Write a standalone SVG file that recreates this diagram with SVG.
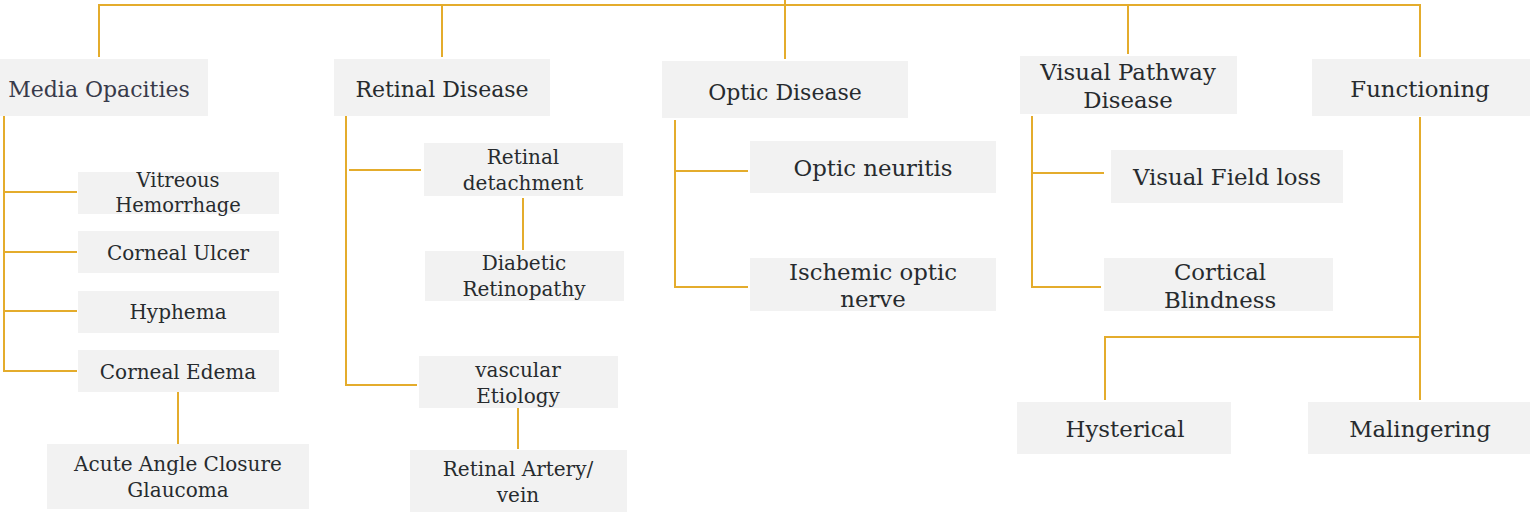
<svg xmlns="http://www.w3.org/2000/svg" width="1530" height="512" viewBox="0 0 1530 512">
<style>
.b{fill:#f2f2f2}
text{font-family:"DejaVu Serif","Liberation Serif",serif;fill:#272b2e;text-anchor:middle}
.l{font-size:22.8px}
.k{font-size:22px}
.m{font-size:20px}
.s{font-size:19.5px}
.c path{fill:none;stroke:#e4ac2c;stroke-width:2}
</style>
<rect width="1530" height="512" fill="#fff"/>
<g class="c" id="connectors">
<path d="M99 57V5H1420V57M442 5V57M785 0V59M1128 5V54"/>
<path d="M4 116V371H77M4 192H77M4 252H77M4 311H77M178 392V444"/>
<path d="M346 116V385H417M349 170H421M523 198V250M518 408V449"/>
<path d="M675 120V287H748M675 171H748"/>
<path d="M1032 116V287H1101M1032 173H1104"/>
<path d="M1420 117V400M1420 337H1105V400"/>
</g>
<g id="n-media"><rect class="b" x="0" y="59" width="208" height="57"/><text class="k" x="99" y="97" style="fill:#383a4a">Media Opacities</text></g>
<g id="n-retinal"><rect class="b" x="334" y="59" width="216" height="57"/><text class="k" x="442" y="97">Retinal Disease</text></g>
<g id="n-optic"><rect class="b" x="662" y="61" width="246" height="57"/><text class="k" x="785" y="100">Optic Disease</text></g>
<g id="n-visual"><rect class="b" x="1020" y="56" width="217" height="58"/><text class="l" x="1128" y="80">Visual Pathway</text><text class="l" x="1128" y="108">Disease</text></g>
<g id="n-func"><rect class="b" x="1312" y="59" width="218" height="57"/><text class="l" x="1420" y="97">Functioning</text></g>
<g id="n-vitreous"><rect class="b" x="78" y="172" width="201" height="42"/><text class="s" x="178" y="187">Vitreous</text><text class="s" x="178" y="212">Hemorrhage</text></g>
<g id="n-ulcer"><rect class="b" x="78" y="231" width="201" height="42"/><text class="m" x="178" y="260">Corneal Ulcer</text></g>
<g id="n-hyphema"><rect class="b" x="78" y="291" width="201" height="42"/><text class="m" x="178" y="319">Hyphema</text></g>
<g id="n-edema"><rect class="b" x="78" y="350" width="201" height="42"/><text class="m" x="178" y="379">Corneal Edema</text></g>
<g id="n-glaucoma"><rect class="b" x="47" y="444" width="262" height="65"/><text class="m" x="178" y="471">Acute Angle Closure</text><text class="m" x="178" y="497">Glaucoma</text></g>
<g id="n-detach"><rect class="b" x="424" y="143" width="199" height="53"/><text class="m" x="523" y="164">Retinal</text><text class="m" x="523" y="190">detachment</text></g>
<g id="n-diabetic"><rect class="b" x="425" y="251" width="199" height="50"/><text class="m" x="524" y="270">Diabetic</text><text class="m" x="524" y="296">Retinopathy</text></g>
<g id="n-vascular"><rect class="b" x="419" y="356" width="199" height="52"/><text class="m" x="518" y="377">vascular</text><text class="m" x="518" y="403">Etiology</text></g>
<g id="n-artery"><rect class="b" x="410" y="450" width="217" height="62"/><text class="m" x="518" y="476">Retinal Artery/</text><text class="m" x="518" y="502">vein</text></g>
<g id="n-neuritis"><rect class="b" x="750" y="141" width="246" height="52"/><text class="l" x="873" y="176">Optic neuritis</text></g>
<g id="n-ischemic"><rect class="b" x="750" y="258" width="246" height="53"/><text class="l" x="873" y="280">Ischemic optic</text><text class="l" x="873" y="307">nerve</text></g>
<g id="n-field"><rect class="b" x="1111" y="150" width="232" height="53"/><text class="l" x="1227" y="185">Visual Field loss</text></g>
<g id="n-cortical"><rect class="b" x="1104" y="258" width="229" height="53"/><text class="l" x="1220" y="280">Cortical</text><text class="l" x="1220" y="308">Blindness</text></g>
<g id="n-hysterical"><rect class="b" x="1017" y="402" width="214" height="52"/><text class="l" x="1125" y="437">Hysterical</text></g>
<g id="n-malinger"><rect class="b" x="1308" y="402" width="222" height="52"/><text class="l" x="1420" y="437">Malingering</text></g>
</svg>
